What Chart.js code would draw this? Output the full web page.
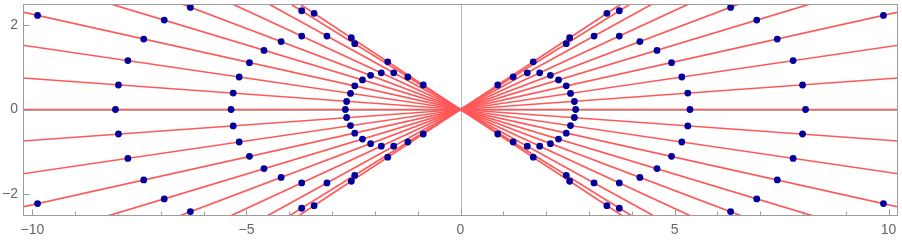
<!DOCTYPE html>
<html>
<head>
<meta charset="utf-8">
<script src="https://cdn.jsdelivr.net/npm/chart.js@4"></script>
<style>
  html, body { margin: 0; padding: 0; background: #fff; }
  #wrap { width: 902px; height: 243px; }
</style>
</head>
<body>
<div id="wrap"><canvas id="chart" width="902" height="243"></canvas></div>
<script>
// slopes of the red lines (upper-left / lower-right branch, mirrored for the other)
const slopes = [0, 0.073, 0.149, 0.226, 0.306, 0.384, 0.469, 0.558, 0.63, 0.666];

// blue points read from the upper-left quadrant (the picture is symmetric in x and y)
const quadrantPoints = [
  [-2.69, 0], [-5.36, 0], [-8.06, 0],
  [-2.66, 0.19], [-5.31, 0.39], [-7.99, 0.58],
  [-2.57, 0.38], [-5.17, 0.77], [-7.77, 1.16],
  [-2.47, 0.56], [-4.93, 1.11], [-7.40, 1.67], [-9.88, 2.23],
  [-2.29, 0.70], [-4.59, 1.40], [-6.92, 2.12],
  [-2.10, 0.81], [-4.19, 1.61], [-6.31, 2.42],
  [-1.85, 0.87], [-3.71, 1.74],
  [-1.56, 0.87], [-3.12, 1.74],
  [-1.23, 0.77], [-2.47, 1.56], [-3.71, 2.34],
  [-0.87, 0.58], [-1.70, 1.13], [-2.55, 1.70], [-3.42, 2.28]
];

const xTicks = [-10, -5, 0, 5, 10];
const yTicks = [-2, 0, 2];
const xMinorStep = 1;

const X_MIN = -10.22, X_MAX = 10.22, Y_MIN = -2.5, Y_MAX = 2.5;
const LINE_RED = 'rgb(255,88,88)';
const DOT_BLUE = '#00009c';
const FRAME = '#9c9c9c';
const AXIS = '#b8b8b8';

// build line datasets
const lineSets = [];
slopes.forEach(s => {
  const signs = s === 0 ? [1] : [1, -1];
  signs.forEach(sg => {
    lineSets.push({
      data: [{ x: -11, y: -11 * s * sg }, { x: 11, y: 11 * s * sg }],
      showLine: true,
      borderColor: LINE_RED,
      borderWidth: 1.7,
      pointRadius: 0,
      clip: 0,
      order: 2
    });
  });
});

// mirror points into the 4 quadrants
const pts = [];
quadrantPoints.forEach(([x, y]) => {
  const xs = [x, -x];
  const ys = y === 0 ? [0] : [y, -y];
  xs.forEach(px => ys.forEach(py => pts.push({ x: px, y: py })));
});

const fmt = v => (v < 0 ? '\u2212' + Math.abs(v) : String(v));

const framePlugin = {
  id: 'frame',
  beforeDatasetsDraw(chart) {
    const { ctx, chartArea: a, scales: { x, y } } = chart;
    ctx.save();
    ctx.strokeStyle = AXIS;
    ctx.lineWidth = 1;
    const x0 = Math.round(x.getPixelForValue(0)) + 0.5;
    const y0 = Math.round(y.getPixelForValue(0)) + 0.5;
    ctx.beginPath();
    ctx.moveTo(x0, a.top); ctx.lineTo(x0, a.bottom);
    ctx.moveTo(a.left, y0); ctx.lineTo(a.right, y0);
    ctx.stroke();
    ctx.restore();
  },
  afterDatasetsDraw(chart) {
    const { ctx, chartArea: a, scales: { x, y } } = chart;
    ctx.save();
    ctx.strokeStyle = FRAME;
    ctx.lineWidth = 1;
    const L = Math.round(a.left) + 0.5, R = Math.round(a.right) - 0.5;
    const T = Math.round(a.top) + 0.5, B = Math.round(a.bottom) + 0.5;
    ctx.strokeRect(L, T, R - L, B - T);
    ctx.beginPath();
    // bottom ticks, pointing inward
    for (let v = -10; v <= 10; v += xMinorStep) {
      const px = Math.round(x.getPixelForValue(v)) + 0.5;
      const len = xTicks.includes(v) ? 6 : 4;
      ctx.moveTo(px, B); ctx.lineTo(px, B - len);
    }
    // left ticks
    yTicks.forEach(v => {
      const py = Math.round(y.getPixelForValue(v)) + 0.5;
      ctx.moveTo(L, py); ctx.lineTo(L + 6, py);
    });
    ctx.stroke();
    ctx.restore();
  }
};

new Chart(document.getElementById('chart'), {
  type: 'scatter',
  data: {
    datasets: [
      {
        data: pts,
        backgroundColor: DOT_BLUE,
        borderColor: DOT_BLUE,
        borderWidth: 0,
        pointRadius: 3.4,
        clip: 0,
        order: 1
      },
      ...lineSets
    ]
  },
  options: {
    responsive: false,
    animation: false,
    layout: { padding: { left: 0, right: 3, top: 0, bottom: 0 } },
    plugins: { legend: { display: false }, tooltip: { enabled: false } },
    scales: {
      x: {
        type: 'linear', min: X_MIN, max: X_MAX,
        grid: { display: false, drawTicks: false },
        border: { display: false },
        afterBuildTicks: s => { s.ticks = xTicks.map(v => ({ value: v })); },
        afterFit: s => { s.height = 28; s.paddingLeft = 0; s.paddingRight = 0; },
        ticks: {
          padding: 7, color: '#666', autoSkip: false, maxRotation: 0,
          font: { family: 'Liberation Sans', size: 14 },
          callback: v => fmt(v)
        }
      },
      y: {
        type: 'linear', min: Y_MIN, max: Y_MAX,
        grid: { display: false, drawTicks: false },
        border: { display: false },
        afterBuildTicks: s => { s.ticks = yTicks.map(v => ({ value: v })); },
        afterFit: s => { s.width = 23; s.paddingTop = 0; s.paddingBottom = 0; },
        ticks: {
          padding: 5, color: '#666', autoSkip: false,
          font: { family: 'Liberation Sans', size: 14 },
          callback: v => fmt(v)
        }
      }
    }
  },
  plugins: [framePlugin]
});
</script>
</body>
</html>
